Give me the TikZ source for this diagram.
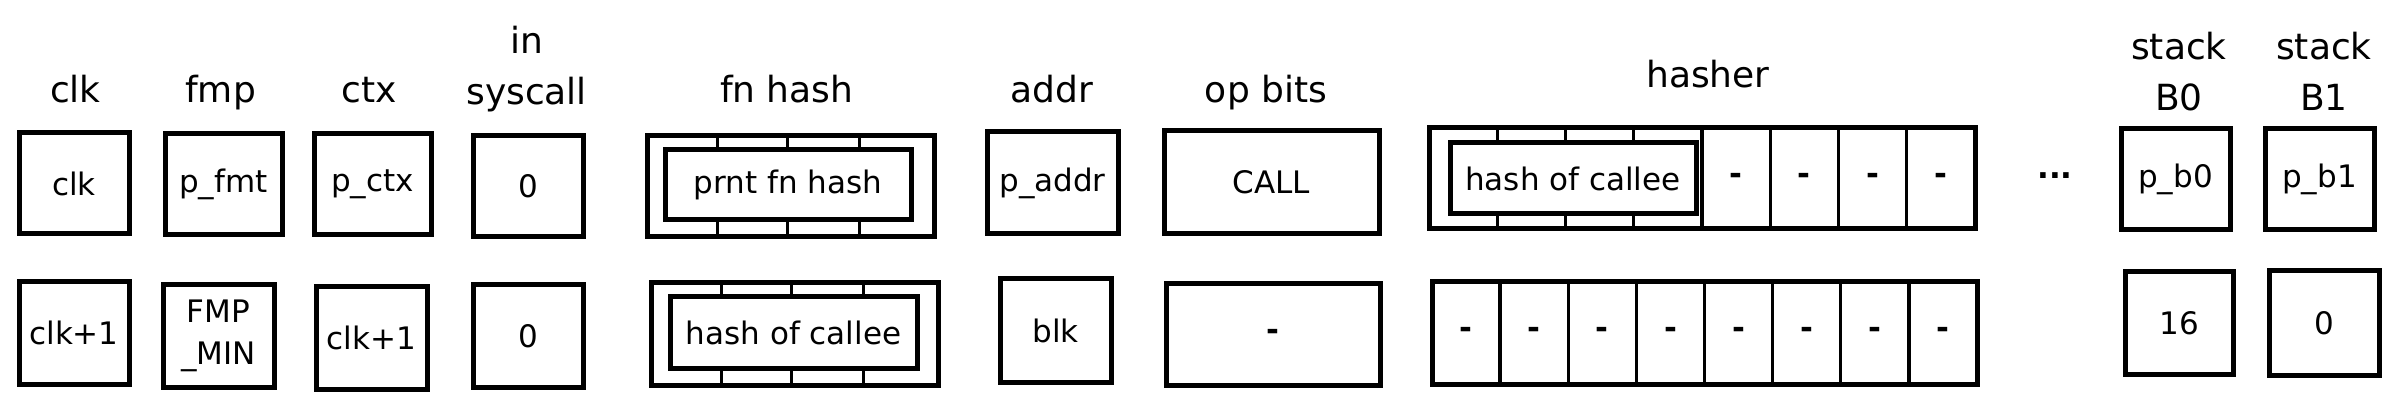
\documentclass[tikz,border=0pt]{standalone}
\usepackage{fontspec}
\setmainfont{DejaVu Sans}
\usetikzlibrary{calc}
\begin{document}
\begin{tikzpicture}[x=0.5pt,y=-0.5pt,
  hdr/.style={font=\fontsize{18}{25.5}\selectfont, align=center, anchor=base, inner sep=0pt},
  cell/.style={draw, line width=2.5pt, inner sep=0pt, outer sep=0pt, fill=white,
               font=\fontsize{15.5}{20.7}\selectfont, align=center},
  txt/.style={inner sep=0pt, font=\fontsize{15.5}{20.7}\selectfont\bfseries},
  sub/.style={line width=1.7pt}]
\useasboundingbox (0,0) rectangle (2394,411);

% headers
\node[hdr] (hclk) at (75.5,103) {clk};
\node[hdr] (hfmp) at (220.6,103) {fmp};
\node[hdr] (hctx) at (369.6,103) {ctx};
\node[hdr] (hsys) at (526.6,105) {in\\syscall};
\node[hdr] (hfh) at (786.7,103) {fn hash};
\node[hdr] (haddr) at (1052,103) {addr};
\node[hdr] (hop) at (1266,103) {op bits};
\node[hdr] (hha) at (1708,88) {hasher};
\node[hdr] (hb0) at (2179,111) {stack\\B0};
\node[hdr] (hb1) at (2324,111) {stack\\B1};

% row 1
\node[cell, minimum width=55pt, minimum height=50.5pt] (clkA) at (74,183.5) {clk};
\node[cell, minimum width=58.5pt, minimum height=50.5pt] (fmpA) at (223.5,184.5) {p\_fmt};
\node[cell, minimum width=58.5pt, minimum height=50.5pt] (ctxA) at (372.5,184.5) {p\_ctx};
\node[cell, minimum width=55pt, minimum height=50.5pt] (sysA) at (528,186.5) {0};
\node[cell, minimum width=143.5pt, minimum height=50.5pt] (fhAo) at (790.5,186.5) {};
\node[cell, minimum width=123pt, minimum height=35pt] (fhAi) at (788,185) {prnt fn hash};
\node[cell, minimum width=65.5pt, minimum height=51pt] (addrA) at (1052.5,183) {p\_addr};
\node[cell, minimum width=107.5pt, minimum height=51.5pt] (opA) at (1271.5,182.5) {CALL};
\node[cell, minimum width=273pt, minimum height=50.5pt] (haA) at (1702,178.5) {};
\node[cell, minimum width=123pt, minimum height=35.5pt] (haAi) at (1573,178.5) {hash of callee};
\node[txt] (dots) at (2055,176) {...};
\node[cell, minimum width=54.5pt, minimum height=50.5pt] (b0A) at (2175.5,179.5) {p\_b0};
\node[cell, minimum width=54.5pt, minimum height=50.5pt] (b1A) at (2319.5,179.5) {p\_b1};

% row 2
\node[cell, minimum width=55pt, minimum height=51pt] (clkB) at (74,333) {clk+1};
\node[cell, minimum width=55.5pt, minimum height=51pt] (fmpB) at (218.5,336) {FMP\\\_MIN};
\node[cell, minimum width=55.5pt, minimum height=51pt] (ctxB) at (371.5,338) {clk+1};
\node[cell, minimum width=55pt, minimum height=51pt] (sysB) at (528,336) {0};
\node[cell, minimum width=143.5pt, minimum height=51pt] (fhBo) at (794.5,334) {};
\node[cell, minimum width=123.5pt, minimum height=35.5pt] (fhBi) at (793.5,332.5) {hash of callee};
\node[cell, minimum width=55.5pt, minimum height=51.5pt] (blkB) at (1055.5,330.5) {blk};
\node[cell, minimum width=107pt, minimum height=50.5pt] (opB) at (1273,334.5) {\bfseries -};
\node[cell, minimum width=272.5pt, minimum height=51pt] (haB) at (1704.5,333) {};
\node[cell, minimum width=54pt, minimum height=51pt] (b0B) at (2179,323) {16};
\node[cell, minimum width=55pt, minimum height=52pt] (b1B) at (2324,323) {0};

% ticks of nested fn hash boxes
\foreach \o/\i in {fhAo/fhAi, fhBo/fhBi}{
  \foreach \f in {0.245,0.49,0.74}{
    \coordinate (p) at ($(\o.north west)!\f!(\o.north east)$);
    \draw[sub] (p) -- (p |- \i.north);
    \coordinate (q) at ($(\o.south west)!\f!(\o.south east)$);
    \draw[sub] (q) -- (q |- \i.south);
  }
}
% hasher row 1: nested part + 4 cells
\foreach \k in {1,2,3}{
  \coordinate (p) at ($(haA.north west)!\k/8!(haA.north east)$);
  \draw[sub] (p) -- (p |- haAi.north);
  \coordinate (q) at ($(haA.south west)!\k/8!(haA.south east)$);
  \draw[sub] (q) -- (q |- haAi.south);
}
\foreach \k in {4,5,6,7}{
  \draw[sub] ($(haA.north west)!\k/8!(haA.north east)$) -- ($(haA.south west)!\k/8!(haA.south east)$);
}
\foreach \k in {4,5,6,7}{
  \node[txt] (haAd\k) at ($(haA.west)!{(\k+0.5)/8}!(haA.east)$) {-};
}
% hasher row 2: 8 cells
\foreach \k in {1,...,7}{
  \draw[sub] ($(haB.north west)!\k/8!(haB.north east)$) -- ($(haB.south west)!\k/8!(haB.south east)$);
}
\foreach \k in {0,...,7}{
  \node[txt] (haBd\k) at ($(haB.west)!{(\k+0.5)/8}!(haB.east)$) {-};
}
\end{tikzpicture}
\end{document}
